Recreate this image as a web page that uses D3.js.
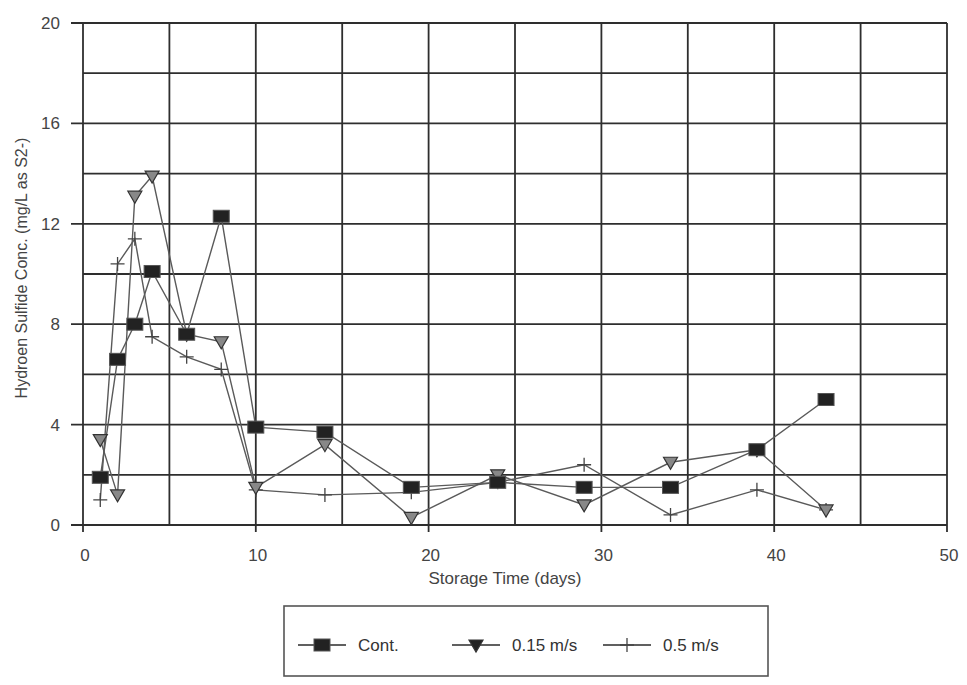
<!DOCTYPE html>
<html>
<head>
<meta charset="utf-8">
<script src="https://cdn.jsdelivr.net/npm/d3@7"></script>
<style>
  body { margin: 0; background: #fff; }
  svg { font-family: "Liberation Sans", Arial, sans-serif; }
</style>
</head>
<body>
<svg id="chart" width="967" height="685"></svg>
<script>
const days = [1, 2, 3, 4, 6, 8, 10, 14, 19, 24, 29, 34, 39, 43];
const cont = [1.9, 6.6, 8.0, 10.1, 7.6, 12.3, 3.9, 3.7, 1.5, 1.7, 1.5, 1.5, 3.0, 5.0];
const v015 = [3.4, 1.2, 13.1, 13.9, 7.6, 7.3, 1.5, 3.2, 0.3, 2.0, 0.8, 2.5, 3.0, 0.6];
const v05 = [1.0, 10.4, 11.4, 7.5, 6.7, 6.2, 1.4, 1.2, 1.3, 1.7, 2.4, 0.4, 1.4, 0.6];
const seriesNames = ['Cont.', '0.15 m/s', '0.5 m/s'];
const xTicks = [0, 10, 20, 30, 40, 50];
const yTicks = [0, 4, 8, 12, 16, 20];

const svg = d3.select('#chart');
const x = d3.scaleLinear().domain([0, 50]).range([83, 947]);
const y = d3.scaleLinear().domain([0, 20]).range([525, 23]);
const ink = '#2b2b2b';

// grid
const grid = svg.append('g').attr('stroke', '#2e2e2e').attr('stroke-width', 1.8);
d3.range(0, 51, 5).forEach(v => {
  grid.append('line')
    .attr('x1', x(v)).attr('x2', x(v))
    .attr('y1', y(20)).attr('y2', y(0) + (v % 10 === 0 ? 7 : 0));
});
d3.range(0, 21, 2).forEach(v => {
  grid.append('line')
    .attr('x1', x(0) - (v % 4 === 0 ? 12 : 0)).attr('x2', x(50))
    .attr('y1', y(v)).attr('y2', y(v));
});

// tick labels
svg.append('g').selectAll('text').data(yTicks).join('text')
  .attr('x', 60).attr('y', d => y(d) + 6)
  .attr('text-anchor', 'end')
  .attr('font-size', 17).attr('fill', '#444')
  .text(d => d);
svg.append('g').selectAll('text').data(xTicks).join('text')
  .attr('x', d => x(d) + 2).attr('y', 561)
  .attr('text-anchor', 'middle')
  .attr('font-size', 17).attr('fill', '#444')
  .text(d => d);

svg.append('text')
  .attr('x', 505).attr('y', 584)
  .attr('text-anchor', 'middle')
  .attr('font-size', 17).attr('fill', '#444')
  .text('Storage Time (days)');
svg.append('text')
  .attr('transform', 'translate(27,268) rotate(-90)')
  .attr('text-anchor', 'middle')
  .attr('font-size', 16).attr('fill', '#444')
  .text('Hydroen Sulfide Conc. (mg/L as S2-)');

// series
const line = d3.line().x(d => x(d[0])).y(d => y(d[1]));
const series = [cont, v015, v05].map(vals => days.map((d, i) => [d, vals[i]]));

function square(g, cx, cy) {
  g.append('rect').attr('x', cx - 8).attr('y', cy - 6).attr('width', 16).attr('height', 12)
    .attr('fill', '#222').attr('stroke', '#555').attr('stroke-width', 1);
}
function triangle(g, cx, cy, fill) {
  g.append('path')
    .attr('d', `M${cx - 7},${cy - 5}L${cx + 7},${cy - 5}L${cx},${cy + 7}Z`)
    .attr('fill', fill).attr('stroke', '#333').attr('stroke-width', 1.2);
}
function plus(g, cx, cy) {
  g.append('path')
    .attr('d', `M${cx - 7},${cy}H${cx + 7}M${cx},${cy - 7}V${cy + 7}`)
    .attr('stroke', '#444').attr('stroke-width', 1.3);
}
const markers = [
  (g, cx, cy) => square(g, cx, cy),
  (g, cx, cy) => triangle(g, cx, cy, '#888'),
  (g, cx, cy) => plus(g, cx, cy)
];

const plot = svg.append('g');
[2, 1, 0].forEach(s => {
  plot.append('path')
    .attr('d', line(series[s]))
    .attr('fill', 'none').attr('stroke', '#5a5a5a').attr('stroke-width', 1.4);
});
[2, 1, 0].forEach(s => {
  series[s].forEach(p => markers[s](plot, x(p[0]), y(p[1])));
});

// legend
const lg = svg.append('g');
lg.append('rect').attr('x', 284).attr('y', 606).attr('width', 484).attr('height', 70)
  .attr('fill', 'none').attr('stroke', '#555').attr('stroke-width', 1.6);
const legendX = [298, 452, 603];
seriesNames.forEach((name, i) => {
  const lx = legendX[i], ly = 645;
  lg.append('line').attr('x1', lx).attr('x2', lx + 48).attr('y1', ly).attr('y2', ly)
    .attr('stroke', ink).attr('stroke-width', 1.4);
  if (i === 1) triangle(lg, lx + 24, ly, '#222');
  else markers[i](lg, lx + 24, ly);
  lg.append('text').attr('x', lx + 60).attr('y', ly + 6)
    .attr('font-size', 17).attr('fill', '#333').text(name);
});
</script>
</body>
</html>
